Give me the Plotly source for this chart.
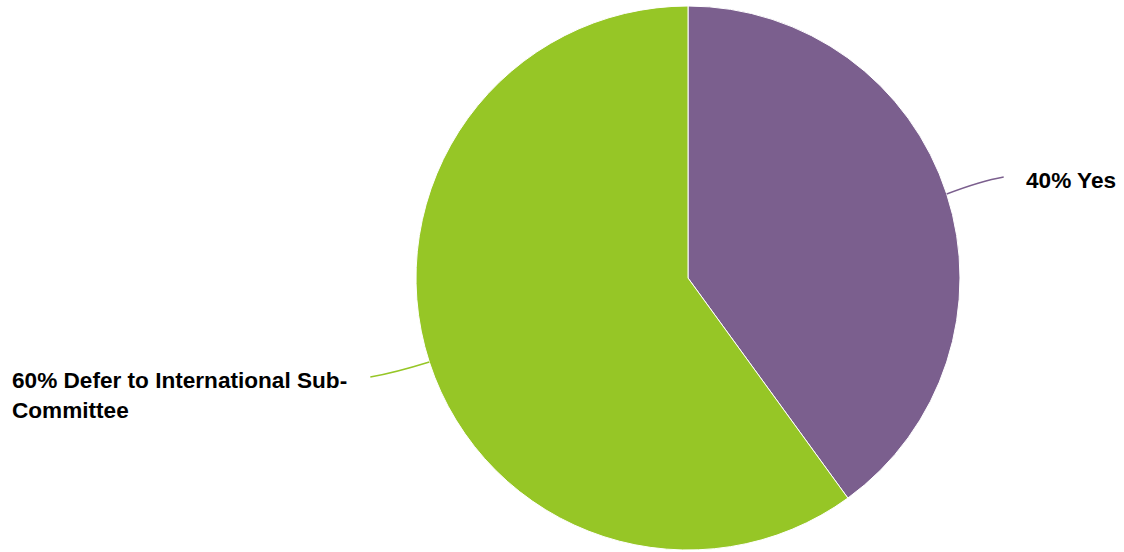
import math
import plotly.graph_objects as go

labels = ["Yes", "Defer to International Sub-Committee"]
values = [40, 60]
colors = ["#7B5F8E", "#96C626"]
label_lines = [["40% Yes"], ["60% Defer to International Sub-", "Committee"]]

W, H = 1124, 552
cx, cy, r = 688, 278, 272

fig = go.Figure(go.Pie(
    labels=labels, values=values, sort=False, direction="clockwise", rotation=0,
    marker=dict(colors=colors, line=dict(color="white", width=1)),
    textinfo="none", hoverinfo="label+percent",
    domain=dict(x=[(cx - r) / W, (cx + r) / W], y=[1 - (cy + r) / H, 1 - (cy - r) / H]),
    showlegend=False,
))

total = sum(values)
cum = 0
shapes, annots = [], []
for v, col, lines in zip(values, colors, label_lines):
    mid = (cum + v / 2) / total * 2 * math.pi
    cum += v
    ex, ey = cx + r * math.sin(mid), cy - r * math.cos(mid)
    right = math.sin(mid) > 0
    tx = ex + (57 if right else -59)
    ty = ey + (-17 if right else 15)
    qx = ex + (tx - ex) * 0.6
    qy = ty + (4 if right else -4)
    path = f"M {ex/W},{1-ey/H} Q {qx/W},{1-qy/H} {tx/W},{1-ty/H}"
    shapes.append(dict(type="path", xref="paper", yref="paper", path=path,
                       line=dict(color=col, width=1.5)))
    if right:
        x0, y0 = 1024, 180.5
    else:
        x0, y0 = 10, 380
    for i, t in enumerate(lines):
        annots.append(dict(text=f"<b>{t}</b>", x=x0 / W, y=1 - (y0 + 30 * i) / H,
                           xref="paper", yref="paper", xanchor="left", yanchor="middle",
                           showarrow=False, align="left",
                           font=dict(family="Liberation Sans, Arial", size=22.6, color="black")))

fig.update_layout(width=W, height=H, margin=dict(l=0, r=0, t=0, b=0),
                  paper_bgcolor="white", plot_bgcolor="white",
                  shapes=shapes, annotations=annots)
fig.write_html("out.html", config={"displayModeBar": False},
               post_script="document.body.style.margin='0';document.body.style.overflow='hidden';")
